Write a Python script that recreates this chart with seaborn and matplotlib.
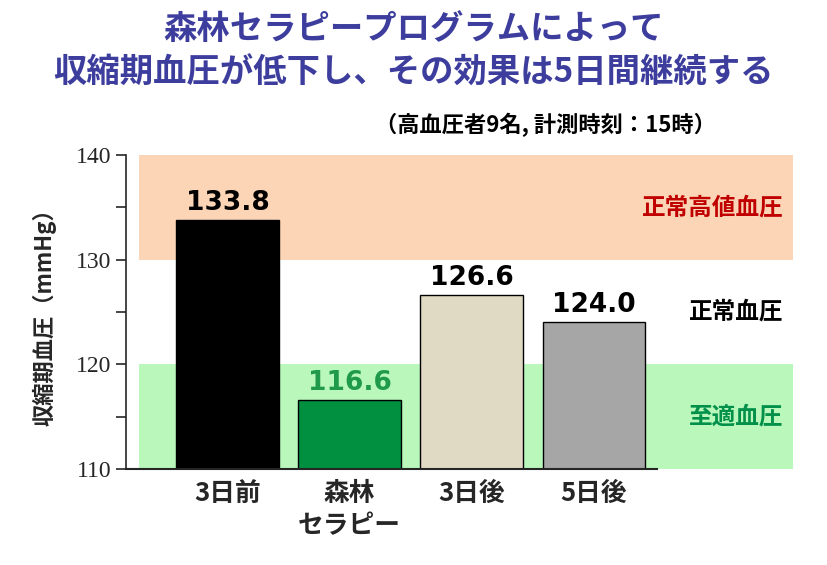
import matplotlib
matplotlib.use("Agg")
import matplotlib.pyplot as plt
import seaborn as sns
import pandas as pd

# data
categories = ["3日前", "森林\nセラピー", "3日後", "5日後"]
values = [133.8, 116.6, 126.6, 124.0]
bar_colors = ["#000000", "#00903f", "#e0d9c3", "#a6a6a6"]
label_colors = ["#000000", "#1f9a4a", "#000000", "#000000"]
band_ranges = [(130, 140), (120, 130), (110, 120)]
band_names = ["正常高値血圧", "正常血圧", "至適血圧"]
band_fill = ["#fbd5b5", "none", "#baf7ba"]
band_text = ["#c00000", "#000000", "#00904a"]
y_ticks = [110, 120, 130, 140]
y_minor = [115, 125, 135]

sns.set_style("white")
plt.rcParams['font.family'] = ['Noto Sans CJK JP', 'DejaVu Sans']

df = pd.DataFrame({"cat": categories, "val": values})

fig = plt.figure(figsize=(8.27, 5.65), dpi=100)
ax = fig.add_axes([0.1524, 0.170, 0.8065, 0.5558])

# background bands
for (lo, hi), fc in zip(band_ranges, band_fill):
    if fc != "none":
        ax.axhspan(lo, hi, xmin=0.0195, xmax=1, color=fc, zorder=0, lw=0)

sns.barplot(data=df, x="cat", y="val", hue="cat", palette=bar_colors,
            saturation=1, legend=False, width=0.84, edgecolor="black",
            linewidth=1, ax=ax, zorder=2)

ax.set_xlim(-0.83, 4.63)
ax.set_ylim(110, 140)

# value labels
for i, (v, c) in enumerate(zip(values, label_colors)):
    ax.text(i, v + 0.4, f"{v:.1f}", ha="center", va="bottom",
            fontsize=19, fontweight="bold", color=c, family="DejaVu Sans")

# band labels on the right
for (lo, hi), name, tc in zip(band_ranges, band_names, band_text):
    ax.text(4.55, (lo + hi) / 2, name, ha="right", va="center",
            fontsize=17, fontweight="bold", color=tc)

sns.despine(ax=ax)
ax.spines["left"].set_linewidth(1.2)
ax.spines["bottom"].set_linewidth(1.5)
ax.spines["bottom"].set_bounds(-0.83, 3.52)
ax.spines["bottom"].set_zorder(3)

ax.set_yticks(y_ticks)
ax.set_yticks(y_minor, minor=True)
ax.set_yticklabels([str(t) for t in y_ticks], family="Liberation Serif", fontsize=17)
ax.tick_params(axis="y", which="both", direction="out", length=7, width=1.2, left=True)
ax.tick_params(axis="x", length=0, pad=8)
ax.set_xticks(range(len(categories)))
ax.set_xticklabels(categories, fontsize=18.5, fontweight="bold", linespacing=1.25)
ax.set_xlabel("")
ax.set_ylabel("収縮期血圧（mmHg）", fontsize=16, fontweight="bold", labelpad=14)

fig.text(0.5, 0.947, "森林セラピープログラムによって", ha="center", va="center",
         fontsize=24, fontweight="bold", color="#3d3d9e")
fig.text(0.5, 0.871, "収縮期血圧が低下し、その効果は5日間継続する", ha="center", va="center",
         fontsize=24, fontweight="bold", color="#3d3d9e")
fig.text(0.66, 0.778, "（高血圧者9名, 計測時刻：15時）", ha="center", va="center",
         fontsize=16, fontweight="bold", color="black")

fig.savefig("out.png", dpi=100)
